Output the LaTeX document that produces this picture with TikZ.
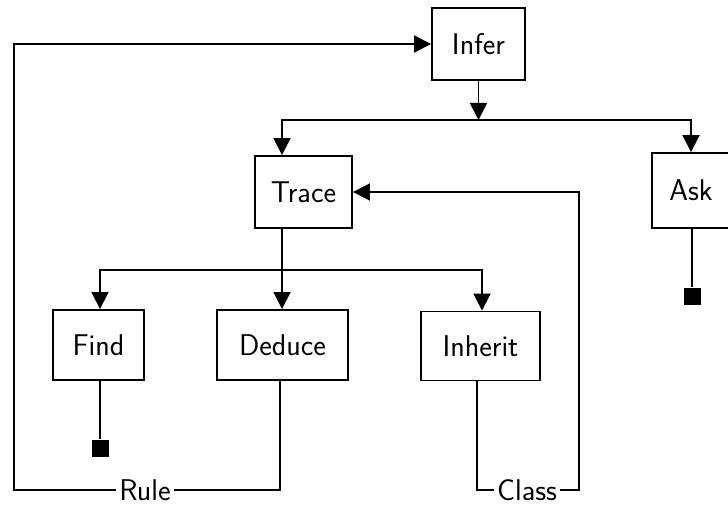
\documentclass[tikz,border=0pt]{standalone}
\usetikzlibrary{arrows.meta,calc}
\begin{document}
\begin{tikzpicture}[x=1pt,y=-1pt,line width=1.9pt,
  box/.style={draw,inner sep=0pt,font=\fontsize{30}{34}\selectfont\sffamily},
  lbl/.style={inner sep=2pt,font=\fontsize{30}{34}\selectfont\sffamily},
  stopsq/.style={fill=black,draw=none,minimum size=17pt,inner sep=0pt},
  arr/.style={-{Triangle[length=17pt,width=17pt]}}]
\useasboundingbox (0,0) rectangle (728,505);

% procedure boxes
\node[box,minimum width=93pt,minimum height=72pt] (infer) at (478.5,44) {Infer};
\node[box,minimum width=78pt,minimum height=75pt] (ask) at (691,190.5) {Ask};
\node[box,minimum width=97pt,minimum height=72pt] (trace) at (303.5,192) {Trace};
\node[box,minimum width=91pt,minimum height=70pt] (find) at (98.5,345) {Find};
\node[box,minimum width=131pt,minimum height=70pt] (deduce) at (282.5,345) {Deduce};
\node[box,minimum width=119pt,minimum height=69pt] (inherit) at (480.5,346) {Inherit};

% terminal squares
\node[stopsq] (findstop) at (100,448) {};
\node[stopsq] (askstop) at (692,296) {};

% loop labels
\node[lbl] (rule) at (145,490) {Rule};
\node[lbl] (class) at (527,490) {Class};

% junctions and corners
\coordinate (j1) at (478.5,120);
\coordinate (j2) at (282,270);
\coordinate (ltop) at (14,44);
\coordinate (rtop) at (579,192);

% Infer calls Trace and Ask
\draw[arr] (infer.south) -- (j1);
\draw[arr] (j1) -| (ask.north);
\draw[arr] (j1) -| ($(trace.north)+(-21.5,0)$);

% Trace calls Find, Deduce and Inherit
\draw ($(trace.south)+(-21.5,0)$) -- (j2);
\draw[arr] (j2) -| (find.north -| findstop);
\draw[arr] (j2) -- (deduce.north -| j2);
\draw[arr] (j2) -| ($(inherit.north)+(1.5,0)$);

% terminal branches
\draw (find.south -| findstop) -- (findstop.north);
\draw (ask.south -| askstop) -- (askstop.north);

% Rule loop back to Infer
\draw ($(deduce.south)+(-2.5,0)$) |- (rule.east);
\draw[arr] (rule.west) -| (ltop) -- (infer.west);

% Class loop back to Trace
\draw ($(inherit.south)+(-3.5,0)$) |- (class.west);
\draw[arr] (class.east) -| (rtop) -- (trace.east);
\end{tikzpicture}
\end{document}
